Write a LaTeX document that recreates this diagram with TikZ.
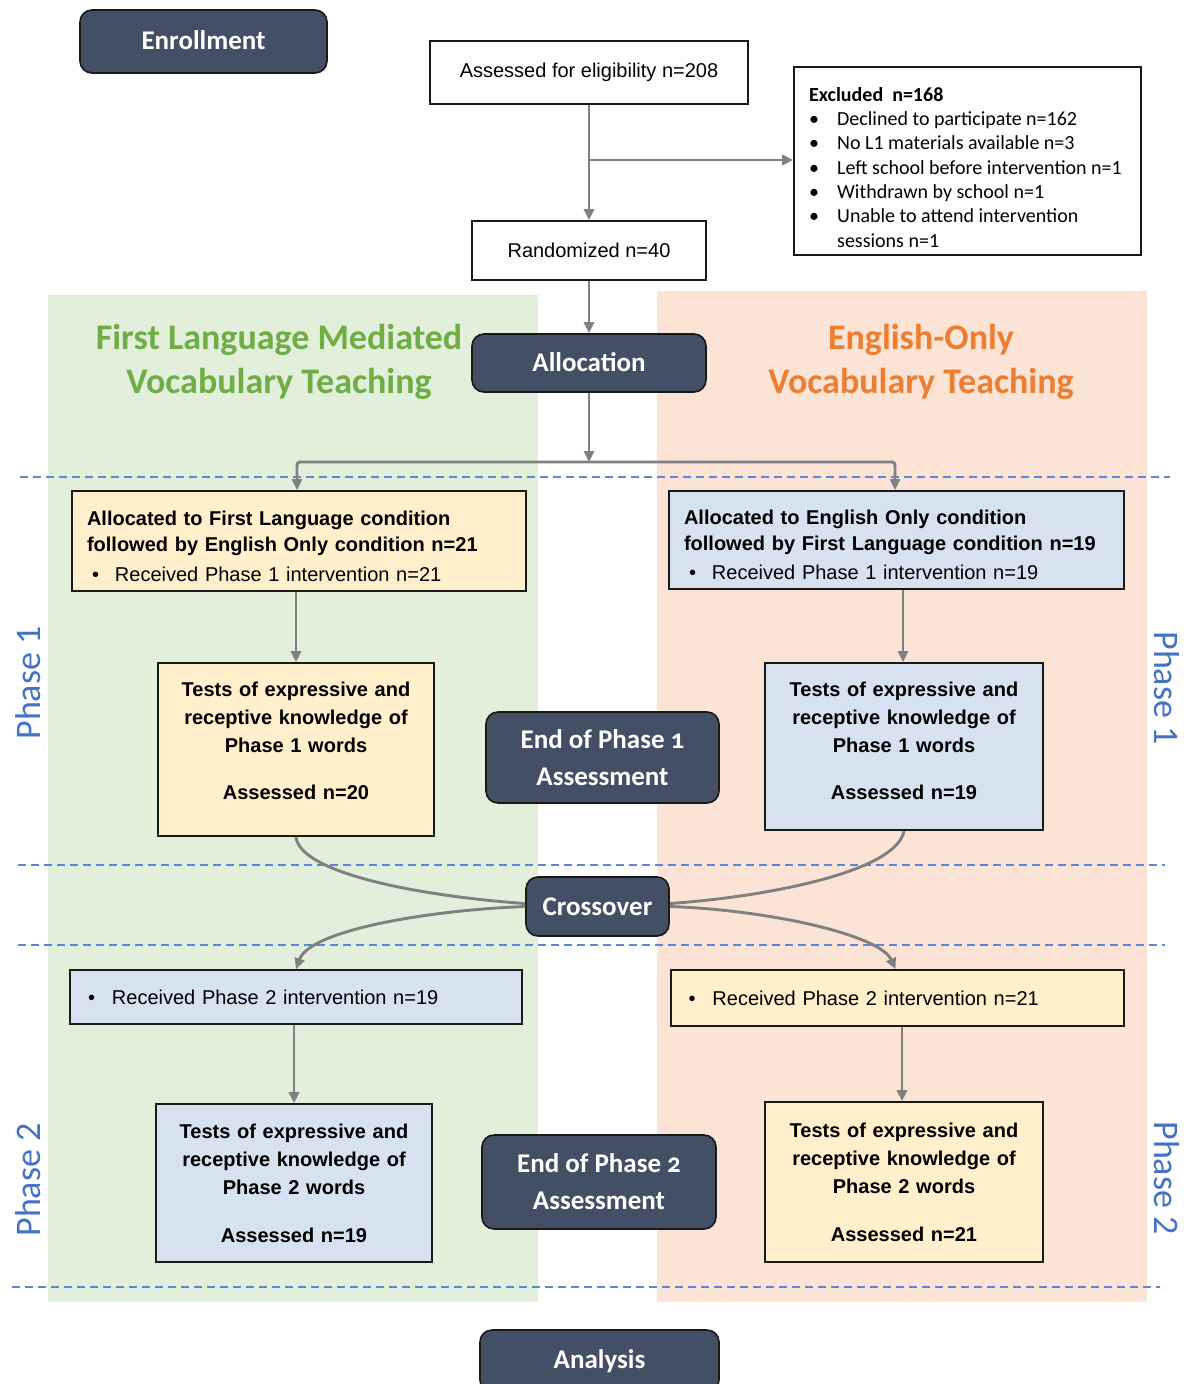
\documentclass[tikz,border=0pt]{standalone}
\usepackage{fontspec}
\setmainfont{Liberation Sans}
\newfontfamily\carlito{Carlito}
\newfontfamily\carlitoold{Carlito}[Numbers=OldStyle]
\usetikzlibrary{arrows.meta}
\definecolor{slate}{HTML}{424F64}
\definecolor{greenbg}{HTML}{E2EFDA}
\definecolor{orangebg}{HTML}{FBE4D5}
\definecolor{cream}{HTML}{FFEFCA}
\definecolor{lblue}{HTML}{D7E2F1}
\definecolor{arrowgray}{HTML}{808080}
\definecolor{dashblue}{HTML}{5B87D6}
\definecolor{phaseblue}{HTML}{4472C4}
\definecolor{tgreen}{HTML}{70AD47}
\definecolor{torange}{HTML}{ED7D31}
\tikzset{
  darkbox/.style={draw=black!90, line width=1.6pt, fill=slate, rounded corners=12pt, text=white,
    font=\carlitoold\bfseries\fontsize{27}{37}\selectfont, align=center, inner sep=0pt},
  wbox/.style={draw=black!90, line width=1.6pt, fill=white, font=\fontsize{20}{26}\selectfont, inner sep=0pt},
  creambox/.style={wbox, fill=cream},
  bluebox/.style={wbox, fill=lblue},
  testbox/.style={align=center, font=\bfseries\fontsize{20}{28}\selectfont},
  conn/.style={draw=arrowgray, line width=2.9pt},
  arr/.style={conn, -{Triangle[length=11pt,width=10pt]}},
  sepline/.style={draw=dashblue, line width=1.4pt, dash pattern=on 8pt off 5pt},
  phase/.style={text=phaseblue, font=\carlito\fontsize{36}{40}\selectfont, inner sep=0pt},
  paneltitle/.style={font=\carlito\bfseries\fontsize{36}{44}\selectfont, align=center, inner sep=0pt}
}
\begin{document}
\begin{tikzpicture}[x=1pt,y=-1pt]
\useasboundingbox (0,0) rectangle (1191,1384);
\fill[white] (0,0) rectangle (1191,1384);
% panels
\fill[greenbg] (48,295) rectangle (538,1302);
\fill[orangebg] (657,291) rectangle (1147,1302);
% dashed separators
\draw[sepline] (20,477) -- (1170,477);
\draw[sepline] (18,865) -- (1165,865);
\draw[sepline] (18,945) -- (1165,945);
\draw[sepline] (12,1287) -- (1160,1287);
% top
\node[darkbox, minimum width=247pt, minimum height=63pt] (enroll) at (203.5,41.5) {\raisebox{3pt}{Enrollment}};
\node[wbox, minimum width=318pt, minimum height=63pt] (assess) at (589,72.5) {Assessed for eligibility n=208};
\node[wbox, minimum width=347pt, minimum height=188pt] (excl) at (967.5,161) {};
\node[anchor=north west, align=left, font=\carlito\fontsize{20}{24.3}\selectfont, inner sep=0pt] (excltext) at (809,87)
 {\textbf{Excluded\ \ n=168}\\
  \makebox[28pt][l]{•}Declined to participate n=162\\
  \makebox[28pt][l]{•}No L1 materials available n=3\\
  \makebox[28pt][l]{•}Left school before intervention n=1\\
  \makebox[28pt][l]{•}Withdrawn by school n=1\\
  \makebox[28pt][l]{•}Unable to attend intervention\\
  \hspace*{28pt}sessions n=1};
\node[wbox, minimum width=234pt, minimum height=59pt] (rand) at (589,250.5) {Randomized n=40};
\node[darkbox, minimum width=234pt, minimum height=58pt] (alloc) at (589,363) {\raisebox{2pt}{Allocation}};
% titles
\node[paneltitle, text=tgreen] (gtitle) at (279,362) {First Language Mediated\\Vocabulary Teaching};
\node[paneltitle, text=torange] (otitle) at (921,362) {English-Only\\Vocabulary Teaching};
% phase labels
\node[phase, rotate=90] (ph1l) at (28,683) {Phase 1};
\node[phase, rotate=90] (ph2l) at (28,1180) {Phase 2};
\node[phase, rotate=-90] (ph1r) at (1167,688) {Phase 1};
\node[phase, rotate=-90] (ph2r) at (1167,1178) {Phase 2};
% phase 1 boxes
\node[creambox, minimum width=454pt, minimum height=100pt, align=left, text width=424pt] (a1) at (299,541)
 {\mbox{}\\[-1pt]
  \textbf{Allocated to First Language condition}\\
  \textbf{followed by English Only condition n=21}\\[4pt]
  \hspace*{5pt}\makebox[23pt][l]{•}Received Phase 1 intervention n=21};
\node[bluebox, minimum width=455pt, minimum height=98pt, align=left, text width=425pt] (a2) at (896.5,540)
 {\mbox{}\\[-1pt]
  \textbf{Allocated to English Only condition}\\
  \textbf{followed by First Language condition n=19}\\[3pt]
  \hspace*{5pt}\makebox[23pt][l]{•}Received Phase 1 intervention n=19};
\node[creambox, testbox, minimum width=276pt, minimum height=173pt, text width=270pt] (t1) at (296,749.5)
 {Tests of expressive and\\receptive knowledge of\\Phase 1 words\\[19pt]Assessed n=20\\[-10pt]\mbox{}};
\node[bluebox, testbox, minimum width=278pt, minimum height=167pt, text width=270pt] (t2) at (904,746.5)
 {Tests of expressive and\\receptive knowledge of\\Phase 1 words\\[19pt]Assessed n=19\\[-16pt]\mbox{}};
\node[darkbox, minimum width=233pt, minimum height=91pt] (endp1) at (602.5,757.5) {End of Phase 1\\Assessment};
\node[darkbox, minimum width=143pt, minimum height=59pt] (cross) at (597.5,906.5) {Crossover};
% phase 2 boxes
\node[bluebox, minimum width=452pt, minimum height=54pt, align=left, text width=420pt] (p2l) at (296,997)
 {\hspace*{2pt}\makebox[24pt][l]{•}Received Phase 2 intervention n=19};
\node[creambox, minimum width=453pt, minimum height=56pt, align=left, text width=420pt] (p2r) at (897.5,998)
 {\hspace*{1pt}\makebox[24pt][l]{•}Received Phase 2 intervention n=21};
\node[bluebox, testbox, minimum width=276pt, minimum height=158pt, text width=270pt] (t3) at (294,1183)
 {Tests of expressive and\\receptive knowledge of\\Phase 2 words\\[20pt]Assessed n=19};
\node[creambox, testbox, minimum width=278pt, minimum height=160pt, text width=270pt] (t4) at (904,1182)
 {Tests of expressive and\\receptive knowledge of\\Phase 2 words\\[20pt]Assessed n=21};
\node[darkbox, minimum width=234pt, minimum height=94pt] (endp2) at (599,1182) {End of Phase 2\\Assessment};
\node[darkbox, minimum width=239pt, minimum height=62pt] (analysis) at (599.5,1361) {Analysis};
% connectors
\draw[arr] (assess.south) -- (rand.north);
\coordinate (br) at (589,160);
\draw[arr] (br) -- (br -| excl.west);
\draw[arr] (rand.south) -- (alloc.north);
\coordinate (split) at (589,462);
\draw[arr] (alloc.south) -- (split);
\draw[arr, rounded corners=3pt] (split) -| ([xshift=-2pt]a1.north);
\draw[arr, rounded corners=3pt] (split) -| ([xshift=-1.5pt]a2.north);
\draw[arr] (t1.north |- a1.south) -- (t1.north);
\draw[arr] ([xshift=-1pt]t2.north |- a2.south) -- ([xshift=-1pt]t2.north);
\draw[conn] (t1.south) .. controls (300,875) and (430,897) .. ([yshift=3pt]cross.west);
\draw[conn] (t2.south) .. controls (897,872) and (765,897) .. ([yshift=3pt]cross.east);
\draw[arr] (cross.west) .. controls (430,910) and (310,930) .. (p2l.north);
\draw[arr] (cross.east) .. controls (770,910) and (880,935) .. ([xshift=-2pt]p2r.north);
\draw[arr] (t3.north |- p2l.south) -- (t3.north);
\draw[arr] ([xshift=-2pt]t4.north |- p2r.south) -- ([xshift=-2pt]t4.north);
\end{tikzpicture}
\end{document}
